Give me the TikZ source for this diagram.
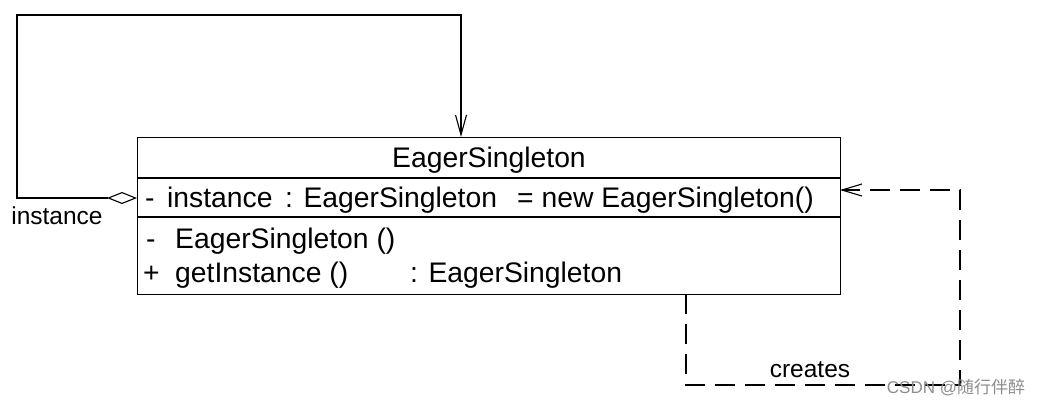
\documentclass[tikz,border=0pt]{standalone}
\usepackage{fontspec}
\setmainfont{Liberation Sans}
\newfontfamily\cjkfont{Noto Sans CJK SC}
\usetikzlibrary{arrows.meta}
\tikzset{
  umltext/.style={anchor=base west, inner sep=0pt, font=\fontsize{28.3}{33}\selectfont},
  umllabel/.style={inner sep=0pt, font=\fontsize{24.5}{29}\selectfont},
  umlline/.style={line width=1.1pt},
  assoc/.style={umlline, {Diamond[open, length=30pt, width=12pt]}-{Straight Barb[length=20pt, width=11pt]}},
  depend/.style={umlline, dash pattern=on 20pt off 10pt, -{Straight Barb[length=20pt, width=12pt]}}
}
\begin{document}
\begin{tikzpicture}[x=1pt,y=-1pt]
  \useasboundingbox (0,0) rectangle (1039,405);
  % class box
  \node[draw, umlline, anchor=north west, minimum width=703pt, minimum height=157pt, inner sep=0pt] (cls) at (137,137) {};
  \draw[umlline] (137,178) -- (840,178);
  \draw[umlline] (137,217) -- (840,217);
  \node[umltext, anchor=base] (clsname) at (489,167) {EagerSingleton};
  % attribute
  \node[umltext] (attrvis) at (145,207) {-};
  \node[umltext] (attrname) at (167,207) {instance};
  \node[umltext] (attrtype) at (285,207) {: EagerSingleton};
  \node[umltext] (attrinit) at (517,207) {= new EagerSingleton()};
  % operations
  \node[umltext] (op1vis) at (146,248) {-};
  \node[umltext] (op1name) at (175,248) {EagerSingleton ()};
  \node[umltext] (op2vis) at (143,282) {+};
  \node[umltext] (op2name) at (175,282) {getInstance ()};
  \node[umltext] (op2type) at (410,282) {: EagerSingleton};
  % connector ends
  \coordinate (aggr) at (137,198);
  \coordinate (topin) at (461,137);
  \coordinate (depsrc) at (686,294);
  \coordinate (deptgt) at (840,190);
  % self association
  \draw[assoc] (aggr) -- (17,198) |- (461,15) -- (topin);
  \node[umllabel] (instlabel) at (57,216) {instance};
  % creates dependency
  \draw[depend] (depsrc) |- (960,385) |- (deptgt);
  \node[umllabel] (createslabel) at (810,370) {creates};
  % watermark
  \node[inner sep=0pt, text=black!45, font=\fontsize{17}{20}\selectfont] (mark) at (956,387) {CSDN @\cjkfont 随行伴醉};
\end{tikzpicture}
\end{document}
